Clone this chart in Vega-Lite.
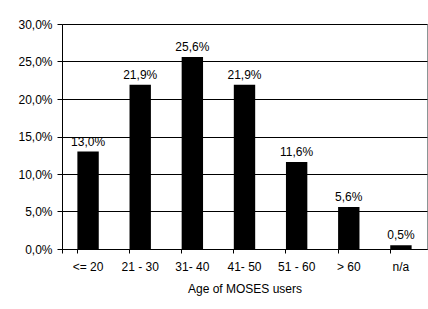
{
  "$schema": "https://vega.github.io/schema/vega-lite/v6.json",
  "width": 365,
  "height": 225,
  "autosize": {"type": "none"},
  "padding": {"left": 62, "top": 24, "right": 1, "bottom": 60},
  "background": "white",
  "config": {
    "locale": {"number": {"decimal": ",", "thousands": ".", "grouping": [3], "currency": ["", " €"]}},
    "font": "Liberation Sans",
    "view": {"stroke": "#8a9595", "strokeWidth": 1},
    "axis": {"labelFont": "Liberation Sans", "titleFont": "Liberation Sans", "labelColor": "#000", "titleColor": "#000", "labelFontSize": 12, "titleFontSize": 12, "titleFontWeight": "normal", "domainColor": "#000", "tickColor": "#000"}
  },
  "data": {"values": [
    {"age": "<= 20", "share": 0.130},
    {"age": "21 - 30", "share": 0.219},
    {"age": "31- 40", "share": 0.256},
    {"age": "41- 50", "share": 0.219},
    {"age": "51 - 60", "share": 0.116},
    {"age": "> 60", "share": 0.056},
    {"age": "n/a", "share": 0.005}
  ]},
  "encoding": {
    "x": {"field": "age", "type": "nominal", "sort": null,
      "scale": {"paddingInner": 0.59, "paddingOuter": 0.295},
      "axis": {"title": "Age of MOSES users", "labelAngle": 0, "bandPosition": 0, "tickExtra": true, "tickSize": 4, "labelPadding": 8, "titlePadding": 11, "grid": false, "domainWidth": 1}},
    "y": {"field": "share", "type": "quantitative",
      "scale": {"domain": [0, 0.3], "nice": false},
      "axis": {"title": null, "format": ".1%", "values": [0, 0.05, 0.1, 0.15, 0.2, 0.25, 0.3], "tickSize": 5, "labelPadding": 5, "grid": true, "gridColor": "#000", "gridOpacity": 1, "gridWidth": 1}}
  },
  "layer": [
    {"mark": {"type": "bar", "color": "#000"}},
    {"mark": {"type": "text", "baseline": "bottom", "dy": -3, "fontSize": 12, "font": "Liberation Sans", "color": "#000"},
     "encoding": {"text": {"field": "share", "type": "quantitative", "format": ".1%"}}}
  ]
}
